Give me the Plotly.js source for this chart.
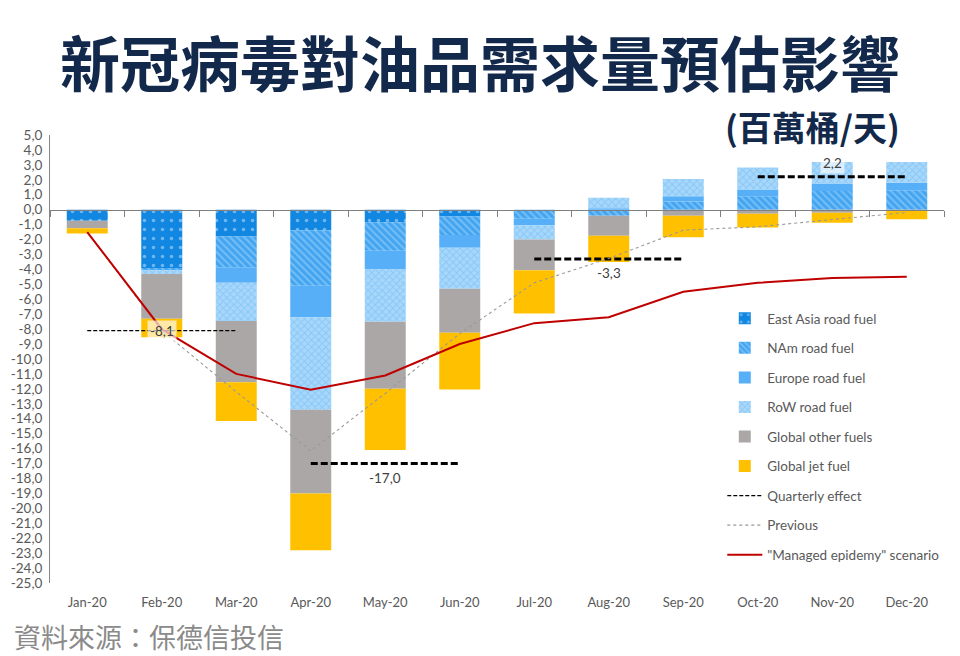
<!DOCTYPE html>
<html>
<head>
<meta charset="utf-8">
<script src="https://cdn.plot.ly/plotly-3.0.1.min.js"></script>
<style>
  html, body { margin: 0; padding: 0; background: #ffffff; }
  #chart { width: 960px; height: 656px; }
</style>
</head>
<body>
<div id="chart"></div>
<script>
// ---- data ----
const months = ['Jan-20','Feb-20','Mar-20','Apr-20','May-20','Jun-20','Jul-20','Aug-20','Sep-20','Oct-20','Nov-20','Dec-20'];
const eastAsiaRoad = [-0.75, -3.9, -1.8, -1.4, -0.85, -0.45, 0, 0, 0, 0, 0, 0];
const namRoad      = [0, -0.15, -2.05, -3.7, -1.9, -1.25, -0.6, -0.4, 0.55, 0.9, 1.25, 1.3];
const europeRoad   = [0, 0, -1.05, -2.1, -1.25, -0.85, -0.45, 0.1, 0.35, 0.45, 0.5, 0.5];
const rowRoad      = [0, -0.25, -2.55, -6.2, -3.5, -2.75, -0.95, 0.7, 1.15, 1.47, 1.45, 1.4];
const otherFuels   = [-0.5, -3.0, -4.1, -5.6, -4.5, -2.95, -2.05, -1.35, -0.4, -0.27, -0.2, -0.05];
const jetFuel      = [-0.35, -1.25, -2.6, -3.8, -4.1, -3.8, -2.9, -1.75, -1.45, -0.93, -0.68, -0.59];
const previous     = [-1.5, -8.1, -12.2, -16.15, -12.3, -8.3, -4.9, -3.27, -1.37, -1.15, -0.66, -0.19];
const managed      = [-1.5, -8.0, -11.0, -12.05, -11.1, -9.0, -7.6, -7.2, -5.5, -4.9, -4.57, -4.5];
const quarterStart = ['Jan-20','Apr-20','Jul-20','Oct-20'];
const quarterEnd   = ['Mar-20','Jun-20','Sep-20','Dec-20'];
const quarterMid   = ['Feb-20','May-20','Aug-20','Nov-20'];
const quarterValue = [-8.1, -17.0, -3.3, 2.2];
const yTicks = [5,4,3,2,1,0,-1,-2,-3,-4,-5,-6,-7,-8,-9,-10,-11,-12,-13,-14,-15,-16,-17,-18,-19,-20,-21,-22,-23,-24,-25];

const fmt = v => v.toFixed(1).replace('.', ',');
const txtFont = 'Lato, "Open Sans", sans-serif';
const txtColor = '#595959';

function barTrace(name, y, color, pattern) {
  const t = {
    type: 'bar', name: name, x: months, y: y,
    legendgroup: name,
    marker: { color: color, line: { width: 0 } },
    hoverinfo: 'x+y+name'
  };
  if (pattern) t.marker.pattern = pattern;
  return t;
}

const data = [
  barTrace('East Asia road fuel', eastAsiaRoad, '#1187E2',
    { shape: '.', bgcolor: '#1187E2', fgcolor: '#CFE8FB', size: 9, solidity: 0.12, fillmode: 'overlay' }),
  barTrace('NAm road fuel', namRoad, '#43A5F1',
    { shape: '\\', bgcolor: '#43A5F1', fgcolor: '#A9D8FB', size: 5, solidity: 0.4, fillmode: 'overlay' }),
  barTrace('Europe road fuel', europeRoad, '#56AFF7'),
  barTrace('RoW road fuel', rowRoad, '#A6D6FA',
    { shape: 'x', bgcolor: '#A9D7FA', fgcolor: '#62B8F5', size: 5, solidity: 0.35, fillmode: 'overlay' }),
  barTrace('Global other fuels', otherFuels, '#ABA7A7'),
  barTrace('Global jet fuel', jetFuel, '#FFC000')
];

// quarterly effect dashed segments
for (let i = 0; i < quarterValue.length; i++) {
  data.push({
    type: 'scatter', mode: 'lines', name: 'Quarterly effect',
    legendgroup: 'Quarterly effect', showlegend: i === 0,
    x: [quarterStart[i], quarterEnd[i]], y: [quarterValue[i], quarterValue[i]],
    line: { color: '#000000', width: i === 0 ? 1.3 : 3, dash: i === 0 ? '4px,2px' : '7px,3px' },
    hoverinfo: 'y+name'
  });
}

data.push({
  type: 'scatter', mode: 'lines', name: 'Previous', legendgroup: 'Previous',
  x: months, y: previous,
  line: { color: '#999999', width: 1.1, dash: 'dot' }
});
data.push({
  type: 'scatter', mode: 'lines', name: '"Managed epidemy" scenario', legendgroup: 'Managed',
  x: months, y: managed,
  line: { color: '#C00000', width: 2 }
});
// dummy trace that carries the zero-line axis with its boundary ticks
data.push({
  type: 'scatter', mode: 'markers', x: months, y: months.map(() => null),
  xaxis: 'x2', showlegend: false, hoverinfo: 'skip', marker: { opacity: 0 }
});

const labelShift = [0, -0.95, -0.95, 0.9];
const labelBg = ['rgba(255,255,255,0.65)', 'rgba(255,255,255,0)', 'rgba(255,255,255,0.75)', 'rgba(255,255,255,0.65)'];
const annotations = quarterValue.map((v, i) => ({
  x: quarterMid[i], y: v + labelShift[i], xref: 'x', yref: 'y',
  text: fmt(v), showarrow: false,
  font: { family: txtFont, size: 13.5, color: '#404040' },
  bgcolor: labelBg[i], borderpad: 2
}));

annotations.push({
  xref: 'paper', yref: 'paper', x: 0.953, y: 1.018, xanchor: 'right', yanchor: 'middle',
  text: '<b>(百萬桶/天)</b>', showarrow: false,
  font: { family: '"Noto Sans CJK TC", sans-serif', size: 34, color: '#13294B' }
});
annotations.push({
  xref: 'paper', yref: 'paper', x: -0.041, y: -0.12, xanchor: 'left', yanchor: 'middle',
  text: '資料來源：保德信投信', showarrow: false, borderpad: 0,
  font: { family: '"Noto Sans CJK TC", sans-serif', size: 27, color: '#8A8A8A' }
});

const layout = {
  width: 960, height: 656,
  margin: { l: 50, r: 16, t: 135, b: 73 },
  paper_bgcolor: '#ffffff', plot_bgcolor: '#ffffff',
  separators: ', ',
  barmode: 'relative', bargap: 0.45,
  title: {
    text: '<b>新冠病毒對油品需求量預估影響</b>',
    x: 0.5, xanchor: 'center', xref: 'container', y: 0.9, yanchor: 'middle', yref: 'container',
    font: { family: '"Noto Sans CJK TC", sans-serif', size: 60, color: '#13294B' }
  },
  xaxis: {
    type: 'category', categoryarray: months, range: [-0.5, 11.5],
    showline: false, showgrid: false, zeroline: false, ticks: '',
    ticklabelstandoff: 10,
    tickfont: { family: txtFont, size: 13, color: txtColor },
    fixedrange: true
  },
  xaxis2: {
    type: 'category', categoryarray: months, range: [-0.5, 11.5],
    overlaying: 'x', anchor: 'free', position: 25 / 30, side: 'bottom',
    showline: true, linecolor: '#7F7F7F', linewidth: 1.2,
    ticks: 'outside', tickson: 'boundaries', ticklen: 6, tickcolor: '#7F7F7F',
    showticklabels: false, showgrid: false, zeroline: false
  },
  yaxis: {
    range: [-25, 5], tickvals: yTicks, ticktext: yTicks.map(fmt),
    showline: true, linecolor: '#868686', linewidth: 1,
    showgrid: false, zeroline: false, ticks: '',
    ticklabelstandoff: 4,
    tickfont: { family: txtFont, size: 13.5, color: txtColor },
    fixedrange: true
  },
  legend: {
    x: 0.752, y: 0.625, xanchor: 'left', yanchor: 'top',
    traceorder: 'grouped', tracegroupgap: 9,
    bgcolor: 'rgba(255,255,255,0)',
    font: { family: txtFont, size: 13.5, color: txtColor },
    itemwidth: 35
  },
  annotations: annotations,
  showlegend: true
};

Plotly.newPlot('chart', data, layout, { displayModeBar: false, staticPlot: true });
</script>
</body>
</html>
